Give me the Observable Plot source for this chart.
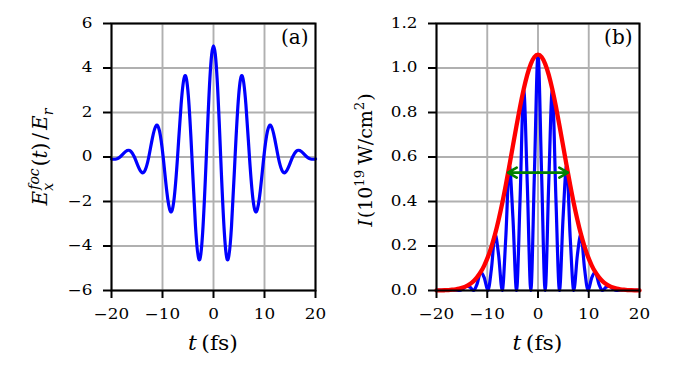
<!DOCTYPE html>
<html><head><meta charset="utf-8">
<script src="https://cdn.jsdelivr.net/npm/d3@7"></script>
<script src="https://cdn.jsdelivr.net/npm/@observablehq/plot@0.6"></script>
<style>
body{margin:0;background:#fff;}
#wrap{position:relative;width:681px;height:373px;background:#fff;}
#pa,#pb{position:absolute;top:0;}
#pa{left:0;} #pb{left:340px;}
</style></head>
<body><div id="wrap"><div id="pa"></div><div id="pb"></div></div>
<script>
// time axis (fs)
const timeFs = [-20, -19.74, -19.04, -18.33, -17.63, -16.92, -16.22, -15.51, -14.81, -14.10, -13.40, -12.69, -11.99, -11.28, -10.58, -9.87, -9.17, -8.46, -7.76, -7.05, -6.35, -5.64, -4.94, -4.23, -3.53, -2.82, -2.12, -1.41, -0.71, 0, 0.71, 1.41, 2.12, 2.82, 3.53, 4.23, 4.94, 5.64, 6.35, 7.05, 7.76, 8.46, 9.17, 9.87, 10.58, 11.28, 11.99, 12.69, 13.40, 14.10, 14.81, 15.51, 16.22, 16.92, 17.63, 18.33, 19.04, 19.74, 20];
// panel (a): focal field E_x^foc / E_r
const fieldEx = [-0.09, -0.10, -0.09, 0, 0.16, 0.29, 0.26, 0, -0.40, -0.69, -0.59, 0, 0.84, 1.40, 1.16, 0, -1.53, -2.44, -1.94, 0, 2.36, 3.64, 2.77, 0, -3.12, -4.62, -3.38, 0, 3.52, 5.00, 3.52, 0, -3.38, -4.62, -3.12, 0, 2.77, 3.64, 2.36, 0, -1.94, -2.44, -1.53, 0, 1.16, 1.40, 0.84, 0, -0.59, -0.69, -0.40, 0, 0.26, 0.29, 0.16, 0, -0.09, -0.10, -0.09];
// panel (b): instantaneous intensity (blue) and envelope (red), 10^19 W/cm^2
const intensityI = [0.0003, 0.0004, 0.0004, 0, 0.001, 0.0035, 0.003, 0, 0.007, 0.020, 0.015, 0, 0.030, 0.083, 0.057, 0, 0.099, 0.253, 0.159, 0, 0.237, 0.561, 0.326, 0, 0.413, 0.904, 0.485, 0, 0.525, 1.060, 0.525, 0, 0.485, 0.904, 0.413, 0, 0.326, 0.561, 0.237, 0, 0.159, 0.253, 0.099, 0, 0.057, 0.083, 0.030, 0, 0.015, 0.020, 0.007, 0, 0.003, 0.0035, 0.001, 0, 0.0004, 0.0004, 0.0003];
const envelopeI = [0.0004, 0.0004, 0.0008, 0.0013, 0.0021, 0.0035, 0.0055, 0.0086, 0.0132, 0.0199, 0.0293, 0.0423, 0.0599, 0.0832, 0.1132, 0.1511, 0.1976, 0.2533, 0.3184, 0.3923, 0.4739, 0.5611, 0.6513, 0.7411, 0.8268, 0.9041, 0.9693, 1.0187, 1.0495, 1.060, 1.0495, 1.0187, 0.9693, 0.9041, 0.8268, 0.7411, 0.6513, 0.5611, 0.4739, 0.3923, 0.3184, 0.2533, 0.1976, 0.1511, 0.1132, 0.0832, 0.0599, 0.0423, 0.0293, 0.0199, 0.0132, 0.0086, 0.0055, 0.0035, 0.0021, 0.0013, 0.0008, 0.0004, 0.0004];
// FWHM double arrow
const fwhmT = [-5.9, 5.9];
const fwhmLevel = 0.53;
// ticks
const xTicks = [-20, -10, 0, 10, 20];
const yTicksA = [-6, -4, -2, 0, 2, 4, 6];
const yTicksB = [0, 0.2, 0.4, 0.6, 0.8, 1.0, 1.2];

const FONT = "DejaVu Serif";
const gridOpt = {stroke: "#b0b0b0", strokeOpacity: 1, strokeWidth: 1.9};
const minusFmt = d => (d < 0 ? "\u2212" + Math.abs(d) : String(d));
const axisOpt = {tickSize: 8, tickPadding: 11, strokeWidth: 2, label: null, fontSize: 14};

function stretchTicks(svg, sx) {
  svg.querySelectorAll('g[aria-label$="tick label"] text').forEach(t => {
    const tr = t.getAttribute("transform");
    if (tr) t.setAttribute("transform", tr + ` scale(${sx},1)`);
    else {
      const x = +t.getAttribute("x") || 0;
      t.setAttribute("transform", `translate(${x},0) scale(${sx},1) translate(${-x},0)`);
    }
  });
}

function richLabel(svg, parts, cx, cy, rot, size, sx) {
  const g = d3.select(svg).append("g").attr("font-family", FONT).attr("fill", "black")
    .attr("text-anchor", "start");
  const inner = g.append("g");
  const small = size * 0.7;
  let x = 0;
  for (const p of parts) {
    if (p.t) {
      const tb = inner.append("text").attr("x", x).attr("y", 0).attr("font-size", size)
        .attr("text-anchor", "start").attr("font-style", p.i ? "italic" : "normal").text(p.t);
      x += tb.node().getComputedTextLength();
    }
    let w = 0;
    if (p.sup) {
      const ts = inner.append("text").attr("x", x + (p.supDx || 0)).attr("y", -size * 0.42).attr("font-size", small)
        .attr("text-anchor", "start").attr("font-style", p.supI ? "italic" : "normal").text(p.sup);
      w = Math.max(w, ts.node().getComputedTextLength() + (p.supDx || 0));
    }
    if (p.sub) {
      const ts = inner.append("text").attr("x", x).attr("y", size * 0.28).attr("font-size", small)
        .attr("text-anchor", "start").attr("font-style", p.subI ? "italic" : "normal").text(p.sub);
      w = Math.max(w, ts.node().getComputedTextLength());
    }
    x += w + (p.gap || 0);
  }
  inner.attr("transform", `translate(${-x / 2},0)`);
  g.attr("transform", `translate(${cx},${cy}) rotate(${rot}) scale(${sx},1)`);
}

// ---------- panel (a)
const rowsA = timeFs.map((t, i) => ({t, e: fieldEx[i]}));
const plotA = Plot.plot({
  width: 340, height: 373,
  marginTop: 23, marginBottom: 83, marginLeft: 111, marginRight: 25,
  style: {fontFamily: FONT, fontSize: "14px", background: "white", color: "black", overflow: "visible"},
  x: {domain: [-20, 20]},
  y: {domain: [-6, 6]},
  marks: [
    Plot.gridX(xTicks, gridOpt),
    Plot.gridY(yTicksA, gridOpt),
    Plot.line(rowsA, {x: "t", y: "e", stroke: "#0000ff", strokeWidth: 3.2, curve: "natural"}),
    Plot.frame({stroke: "black", strokeWidth: 2}),
    Plot.axisX(xTicks, {...axisOpt, tickFormat: minusFmt}),
    Plot.axisY(yTicksA, {...axisOpt, tickFormat: minusFmt}),
    Plot.text(["(a)"], {frameAnchor: "top-right", textAnchor: "end", lineAnchor: "top", dx: -7, dy: 6, fontSize: 20})
  ]
});
document.getElementById("pa").appendChild(plotA);
stretchTicks(plotA, 1.2);
richLabel(plotA, [
  {t: "E", i: true, sub: "x", subI: true, sup: "foc", supI: true, supDx: 1, gap: 2},
  {t: "("}, {t: "t", i: true}, {t: ")", gap: 3}, {t: "/", gap: 3},
  {t: "E", i: true, sub: "r", subI: true}
], 47, 157, -90, 20, 1);
richLabel(plotA, [{t: "t", i: true, gap: 4}, {t: "(fs)"}], 213, 350, 0, 20, 1.1);

// ---------- panel (b)
const rowsB = timeFs.map((t, i) => ({t, inst: intensityI[i], env: envelopeI[i]}));
const center = (fwhmT[0] + fwhmT[1]) / 2;
const arrowRows = fwhmT.map(t => ({x1: center, x2: t, y: fwhmLevel}));
const plotB = Plot.plot({
  width: 341, height: 373,
  marginTop: 23, marginBottom: 83, marginLeft: 96, marginRight: 42,
  style: {fontFamily: FONT, fontSize: "14px", background: "white", color: "black", overflow: "visible"},
  x: {domain: [-20, 20]},
  y: {domain: [0, 1.2]},
  marks: [
    Plot.gridX(xTicks, gridOpt),
    Plot.gridY(yTicksB, gridOpt),
    Plot.line(rowsB, {x: "t", y: "inst", stroke: "#0000ff", strokeWidth: 3.2, curve: "monotone-x"}),
    Plot.line(rowsB, {x: "t", y: "env", stroke: "#ff0000", strokeWidth: 4.3, curve: "natural"}),
    Plot.arrow(arrowRows, {x1: "x1", x2: "x2", y1: "y", y2: "y", stroke: "#008000", strokeWidth: 2.6, headLength: 14}),
    Plot.frame({stroke: "black", strokeWidth: 2}),
    Plot.axisX(xTicks, {...axisOpt, tickFormat: minusFmt}),
    Plot.axisY(yTicksB, {...axisOpt, tickFormat: d => d.toFixed(1)}),
    Plot.text(["(b)"], {frameAnchor: "top-right", textAnchor: "end", lineAnchor: "top", dx: -7, dy: 6, fontSize: 20})
  ]
});
document.getElementById("pb").appendChild(plotB);
stretchTicks(plotB, 1.2);
richLabel(plotB, [
  {t: "I", i: true, gap: 1}, {t: "(10", sup: "19", gap: 5}, {t: "W/cm", sup: "2", gap: 1}, {t: ")"}
], 32, 160, -90, 19, 1);
richLabel(plotB, [{t: "t", i: true, gap: 4}, {t: "(fs)"}], 197.5, 350, 0, 20, 1.1);
</script>
</body></html>
